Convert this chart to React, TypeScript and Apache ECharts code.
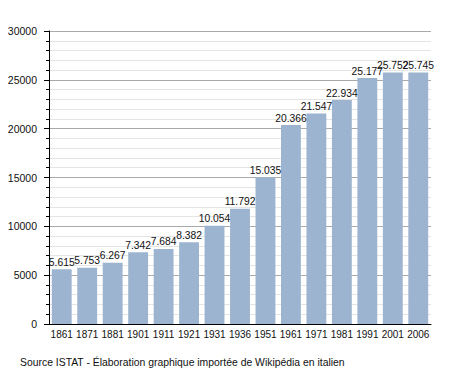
import React, { useEffect, useRef } from "react";
import * as echarts from "echarts";

const years = ["1861", "1871", "1881", "1901", "1911", "1921", "1931", "1936", "1951", "1961", "1971", "1981", "1991", "2001", "2006"];
const population = [5615, 5753, 6267, 7342, 7684, 8382, 10054, 11792, 15035, 20366, 21547, 22934, 25177, 25752, 25745];
const sourceText = "Source ISTAT - Élaboration graphique importée de Wikipédia en italien";

function fmt(v: number): string {
  return String(v).replace(/\B(?=(\d{3})+(?!\d))/g, ".");
}

export default function App() {
  const ref = useRef<HTMLDivElement>(null);
  useEffect(() => {
    if (!ref.current) return;
    const chart = echarts.init(ref.current, null, { renderer: "svg" });
    chart.setOption({
      animation: false,
      backgroundColor: "#ffffff",
      textStyle: { fontFamily: "Liberation Sans, Arial, sans-serif" },
      grid: { left: 49, right: 27, top: 31, bottom: 49 },
      xAxis: {
        type: "category",
        data: years,
        axisLine: { lineStyle: { color: "#000", width: 1 } },
        axisTick: { show: false },
        axisLabel: { color: "#111", fontSize: 10, margin: 5, interval: 0 },
      },
      yAxis: {
        type: "value",
        min: 0,
        max: 30000,
        interval: 5000,
        axisLine: { show: true, lineStyle: { color: "#000", width: 1 } },
        axisTick: { show: true, length: 5, lineStyle: { color: "#000" } },
        minorTick: { show: true, splitNumber: 5, length: 3, lineStyle: { color: "#000" } },
        splitLine: { lineStyle: { color: "#aaaaaa", width: 1 } },
        minorSplitLine: { show: true, lineStyle: { color: "#e4e4e4", width: 1 } },
        axisLabel: { color: "#111", fontSize: 10.5, margin: 12, formatter: (v: number) => String(v) },
      },
      series: [
        {
          type: "bar",
          data: population,
          barCategoryGap: "22%",
          itemStyle: { color: "#9db4d0" },
          label: {
            show: true,
            position: "top",
            distance: 2,
            color: "#111",
            fontSize: 10.3,
            formatter: (p: any) => fmt(p.value),
          },
        },
      ],
      graphic: [
        {
          type: "text",
          left: 20,
          top: 357,
          style: { text: sourceText, fill: "#111", fontSize: 10.4, fontFamily: "Liberation Sans, Arial, sans-serif" },
        },
      ],
    });
    return () => chart.dispose();
  }, []);
  return <div ref={ref} style={{ width: 458, height: 373, position: "absolute", left: 0, top: 0 }} />;
}
